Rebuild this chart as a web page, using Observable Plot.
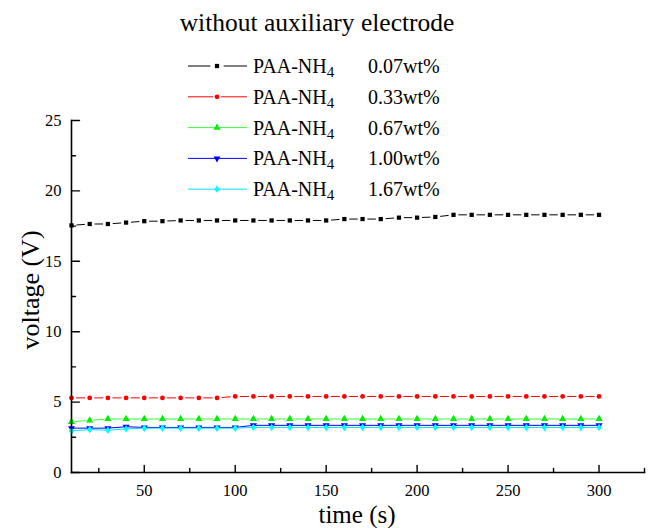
<!DOCTYPE html>
<html>
<head>
<meta charset="utf-8">
<script src="https://cdn.jsdelivr.net/npm/d3@7"></script>
<script src="https://cdn.jsdelivr.net/npm/@observablehq/plot@0.6"></script>
<style>
  body { margin: 0; background: #fff; }
  #wrap { position: relative; width: 659px; height: 528px; font-family: "Liberation Serif", "Times New Roman", serif; }
  #wrap svg { display: block; }
  #overlay { position: absolute; left: 0; top: 0; pointer-events: none; }
</style>
</head>
<body>
<div id="wrap"></div>
<script>
// ---- data ----
const chartTitle = "without auxiliary electrode";
const xLabel = "time (s)";
const yLabel = "voltage (V)";
const times = [10, 20, 30, 40, 50, 60, 70, 80, 90, 100, 110, 120, 130, 140, 150,
               160, 170, 180, 190, 200, 210, 220, 230, 240, 250, 260, 270, 280, 290, 300];
const seriesLabels = ["0.07wt%", "0.33wt%", "0.67wt%", "1.00wt%", "1.67wt%"];
const v007 = [17.55, 17.65, 17.65, 17.75, 17.85, 17.85, 17.9, 17.9, 17.9, 17.9, 17.9, 17.9, 17.9, 17.9, 17.9,
              18.0, 18.0, 18.0, 18.1, 18.1, 18.15, 18.3, 18.3, 18.3, 18.3, 18.3, 18.3, 18.3, 18.3, 18.3];
const v033 = [5.3, 5.3, 5.3, 5.3, 5.3, 5.3, 5.3, 5.3, 5.3, 5.4, 5.4, 5.4, 5.4, 5.4, 5.4,
              5.4, 5.4, 5.4, 5.4, 5.4, 5.4, 5.4, 5.4, 5.4, 5.4, 5.4, 5.4, 5.4, 5.4, 5.4];
const v067 = [3.6, 3.7, 3.8, 3.8, 3.8, 3.8, 3.8, 3.8, 3.8, 3.8, 3.8, 3.8, 3.8, 3.8, 3.8,
              3.8, 3.8, 3.8, 3.8, 3.8, 3.8, 3.8, 3.8, 3.8, 3.8, 3.8, 3.8, 3.8, 3.8, 3.8];
const v100 = [3.15, 3.15, 3.15, 3.25, 3.2, 3.2, 3.2, 3.2, 3.2, 3.2, 3.35, 3.35, 3.35, 3.35, 3.35,
              3.35, 3.35, 3.35, 3.35, 3.35, 3.35, 3.35, 3.35, 3.35, 3.35, 3.35, 3.35, 3.35, 3.35, 3.35];
const v167 = [2.95, 3.05, 3.0, 3.1, 3.15, 3.15, 3.15, 3.15, 3.15, 3.15, 3.2, 3.2, 3.2, 3.2, 3.2,
              3.2, 3.2, 3.2, 3.2, 3.2, 3.2, 3.2, 3.2, 3.2, 3.2, 3.2, 3.2, 3.2, 3.2, 3.2];
const xDomain = [10, 325];
const yDomain = [0, 25];
const xMajorTicks = [50, 100, 150, 200, 250, 300];
const xMinorTicks = [25, 75, 125, 175, 225, 275, 325];
const yMajorTicks = [0, 5, 10, 15, 20, 25];
const yMinorTicks = [2.5, 7.5, 12.5, 17.5, 22.5];

// ---- symbols ----
const sqrt3 = Math.sqrt(3);
const triangleDown = {
  draw(ctx, size) {
    const y = -Math.sqrt(size / (sqrt3 * 3));
    ctx.moveTo(0, -y * 2);
    ctx.lineTo(-sqrt3 * y, y);
    ctx.lineTo(sqrt3 * y, y);
    ctx.closePath();
  }
};
const diamondShort = {
  draw(ctx, size) {
    const w = Math.sqrt(size / 2.7), h = w * 1.35;
    ctx.moveTo(0, -h); ctx.lineTo(w, 0); ctx.lineTo(0, h); ctx.lineTo(-w, 0); ctx.closePath();
  }
};

const valuesList = [v007, v033, v067, v100, v167];
const styles = [
  {line: "#000000", fill: "#000000", symbol: "square", r: 2.4, halo: 5.5, legendHalo: 9},
  {line: "#ff0000", fill: "#ff0000", symbol: "circle", r: 2.4, halo: 4.4, legendHalo: 3},
  {line: "#33ff33", fill: "#00ee00", symbol: "triangle", r: 2.7, halo: 1.5, legendHalo: 0},
  {line: "#0000ff", fill: "#0000ff", symbol: triangleDown, r: 2.6, halo: 0, legendHalo: 0},
  {line: "#00e5ff", fill: "#00ffff", symbol: diamondShort, r: 2.5, halo: 0, legendHalo: 0}
];
const series = seriesLabels.map((label, k) => ({
  label,
  style: styles[k],
  data: times.map((t, i) => ({t, v: valuesList[k][i]}))
}));

const tickShape = {draw(ctx, l) { ctx.moveTo(0, 0); ctx.lineTo(0, -l); }};
const font = "Liberation Serif, Times New Roman, serif";

const marks = [];
series.forEach(s => {
  marks.push(Plot.line(s.data, {x: "t", y: "v", stroke: s.style.line, strokeWidth: 1}));
});
series.forEach(s => {
  if (s.style.halo > 0) {
    marks.push(Plot.dot(s.data, {x: "t", y: "v", symbol: s.style.symbol, r: s.style.r,
      fill: "white", stroke: "white", strokeWidth: s.style.halo}));
  }
  marks.push(Plot.dot(s.data, {x: "t", y: "v", symbol: s.style.symbol, r: s.style.r,
    fill: s.style.fill, stroke: "none"}));
});

const plot = Plot.plot({
  width: 659,
  height: 528,
  marginLeft: 71,
  marginRight: 15,
  marginTop: 120,
  marginBottom: 56,
  style: {fontFamily: font, fontSize: "16px", color: "black", background: "white", overflow: "visible"},
  x: {domain: xDomain},
  y: {domain: yDomain},
  marks: [
    ...marks,
    Plot.frame({anchor: "left", stroke: "black", strokeWidth: 1.6}),
    Plot.frame({anchor: "bottom", stroke: "black", strokeWidth: 1.6}),
    Plot.vector(xMajorTicks, {x: d => d, frameAnchor: "bottom", length: 7, anchor: "start", shape: tickShape, stroke: "black", strokeWidth: 1.4}),
    Plot.vector(xMinorTicks, {x: d => d, frameAnchor: "bottom", length: 4, anchor: "start", shape: tickShape, stroke: "black", strokeWidth: 1.4}),
    Plot.vector(yMajorTicks, {y: d => d, frameAnchor: "left", rotate: 90, length: 8, anchor: "start", shape: tickShape, stroke: "black", strokeWidth: 1.4}),
    Plot.vector(yMinorTicks, {y: d => d, frameAnchor: "left", rotate: 90, length: 4, anchor: "start", shape: tickShape, stroke: "black", strokeWidth: 1.4}),
    Plot.axisX({ticks: xMajorTicks, tickSize: 0, tickPadding: 12, label: null, fontSize: 16.5, fontFamily: font}),
    Plot.axisY({ticks: yMajorTicks, tickSize: 0, tickPadding: 10, label: null, fontSize: 16.5, fontFamily: font})
  ]
});
const wrap = document.getElementById("wrap");
wrap.appendChild(plot);

// ---- title, axis titles and legend overlay ----
const ov = d3.select(wrap).append("svg").attr("id", "overlay")
  .attr("width", 659).attr("height", 528)
  .attr("font-family", font);
ov.append("text").attr("x", 317).attr("y", 31).attr("text-anchor", "middle")
  .attr("font-family", font).attr("font-size", 25.5).attr("fill", "black").text(chartTitle);
ov.append("text").attr("x", 357).attr("y", 523).attr("text-anchor", "middle")
  .attr("font-family", font).attr("font-size", 25).attr("fill", "black").text(xLabel);
ov.append("text").attr("transform", "translate(39,290) rotate(-90)").attr("text-anchor", "middle")
  .attr("font-family", font).attr("font-size", 26).attr("fill", "black").text(yLabel);

const legendX0 = 188, legendX1 = 247, legendMarkX = 217, legendTop = 66, legendStep = 30.8;
series.forEach((s, k) => {
  const y = legendTop + k * legendStep;
  const g = ov.append("g");
  g.append("line").attr("x1", legendX0).attr("x2", legendX1).attr("y1", y).attr("y2", y)
    .attr("stroke", s.style.line).attr("stroke-width", 1);
  const sym = typeof s.style.symbol === "string"
    ? {square: d3.symbolSquare, circle: d3.symbolCircle, triangle: d3.symbolTriangle}[s.style.symbol]
    : s.style.symbol;
  const size = Math.PI * s.style.r * s.style.r;
  const p = d3.symbol(sym, size)();
  if (s.style.legendHalo > 0) {
    g.append("path").attr("d", p).attr("transform", `translate(${legendMarkX},${y})`)
      .attr("fill", "white").attr("stroke", "white").attr("stroke-width", s.style.legendHalo);
  }
  g.append("path").attr("d", p).attr("transform", `translate(${legendMarkX},${y})`)
    .attr("fill", s.style.fill);
  const t = g.append("text").attr("x", 253).attr("y", y + 7).attr("font-family", font)
    .attr("font-size", 20).attr("fill", "black");
  t.append("tspan").text("PAA-NH");
  t.append("tspan").attr("font-size", 15).attr("dy", 4).text("4");
  g.append("text").attr("x", 368).attr("y", y + 7).attr("font-family", font)
    .attr("font-size", 20).attr("fill", "black").text(s.label);
});
</script>
</body>
</html>
